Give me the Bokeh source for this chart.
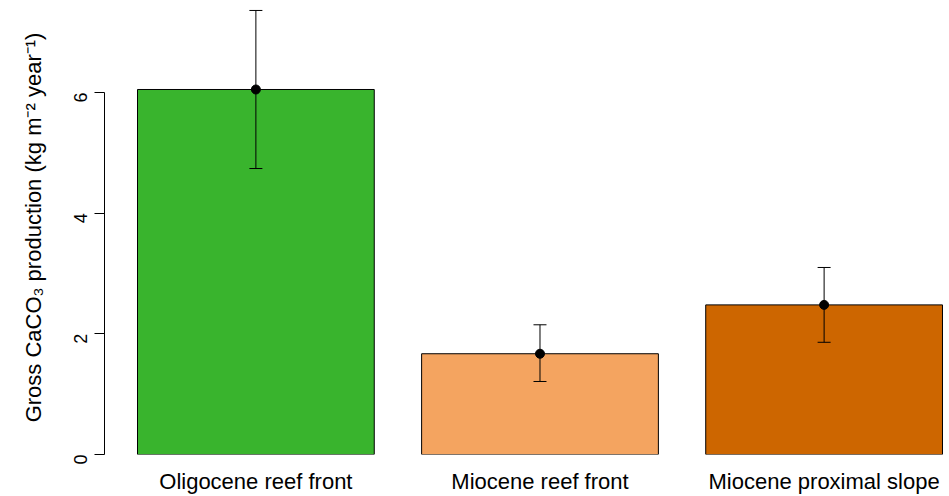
import math
from bokeh.plotting import figure
from bokeh.models import Range1d, Whisker, ColumnDataSource, TeeHead, FixedTicker
from bokeh.embed import file_html
from bokeh.resources import INLINE

categories = ["Oligocene reef front", "Miocene reef front", "Miocene proximal slope"]
means = [6.05, 1.67, 2.48]
upper = [7.36, 2.15, 3.10]
lower = [4.74, 1.21, 1.86]
colors = ["#39B42D", "#F4A460", "#CD6600"]
yticks = [0, 2, 4, 6]

centers = [round(0.7 + 1.2 * i, 2) for i in range(len(categories))]
src = ColumnDataSource(dict(x=centers, top=means, upper=upper, lower=lower,
                            color=colors, cat=categories))

FONT = "Liberation Sans"

p = figure(width=949, height=496, output_backend="svg", toolbar_location=None,
           x_range=Range1d(0.0606, 3.6296), y_range=Range1d(0, 7.525),
           min_border_left=104, min_border_top=0, min_border_right=0,
           min_border_bottom=42)
p.outline_line_color = None
p.xgrid.visible = False
p.ygrid.visible = False
p.background_fill_color = "white"

p.vbar(x="x", top="top", bottom=0, width=1.0, source=src, fill_color="color",
       line_color="black", line_width=1)

w = Whisker(source=src, base="x", upper="upper", lower="lower",
            upper_head=TeeHead(size=13, line_color="black", line_width=1),
            lower_head=TeeHead(size=13, line_color="black", line_width=1),
            line_color="black", line_width=1, level="overlay")
p.add_layout(w)
p.scatter(x="x", y="top", source=src, size=9, color="black")

# y axis
ya = p.yaxis[0]
ya.ticker = FixedTicker(ticks=yticks)
ya.bounds = (0, 6)
ya.major_tick_out = 10
ya.major_tick_in = 0
ya.minor_tick_line_color = None
ya.major_label_orientation = math.pi / 2
ya.major_label_standoff = 14
ya.major_label_text_font = FONT
ya.major_label_text_font_size = "18px"
ya.major_label_text_color = "black"
ya.axis_line_color = "black"
ya.major_tick_line_color = "black"
ya.axis_label = "Gross CaCO\u2083 production (kg m\u207b\u00b2 year\u207b\u00b9)"
ya.axis_label_text_font = FONT
ya.axis_label_text_font_size = "22px"
ya.axis_label_text_font_style = "normal"
ya.axis_label_text_color = "black"
ya.axis_label_standoff = 19

# x axis
xa = p.xaxis[0]
xa.ticker = FixedTicker(ticks=centers)
xa.major_label_overrides = {c: n for c, n in zip(centers, categories)}
xa.axis_line_color = None
xa.major_tick_line_color = None
xa.minor_tick_line_color = None
xa.major_tick_out = 0
xa.major_tick_in = 0
xa.major_label_standoff = 14
xa.major_label_text_font = FONT
xa.major_label_text_font_size = "22px"
xa.major_label_text_color = "black"

open("out.html", "w").write(file_html(p, INLINE))
